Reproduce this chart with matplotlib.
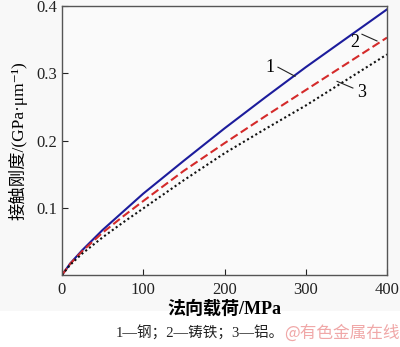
import matplotlib
matplotlib.use("Agg")
import matplotlib.pyplot as plt

# Data
load = [0, 10, 25, 50, 75, 100, 150, 200, 250, 300, 350, 400]
steel = [0, 0.017, 0.037, 0.067, 0.094, 0.121, 0.170, 0.218, 0.264, 0.309, 0.352, 0.395]
cast_iron = [0, 0.0165, 0.0355, 0.063, 0.087, 0.110, 0.155, 0.196, 0.236, 0.275, 0.314, 0.353]
aluminium = [0, 0.015, 0.032, 0.056, 0.078, 0.099, 0.141, 0.181, 0.217, 0.252, 0.290, 0.328]
x_ticks = [0, 100, 200, 300, 400]
y_ticks = [0.1, 0.2, 0.3, 0.4]

FAM = ['Liberation Serif', 'Noto Sans CJK SC', 'DejaVu Serif']
plt.rcParams['font.family'] = FAM

fig = plt.figure(figsize=(4.0, 3.47), dpi=100)
fig.patch.set_facecolor('#f8f8f8')
fig.patches.append(plt.Rectangle((0, 0), 1, 0.105, transform=fig.transFigure,
                                 facecolor='white', edgecolor='none', zorder=-10))
ax = fig.add_axes([0.155, 0.2075, 0.8125, 0.7752])
ax.set_facecolor('#fafafa')

ax.plot(load, steel, color='#1c1c9c', lw=1.5, ls='-')
ax.plot(load, cast_iron, color='#d42a2a', lw=1.5, ls=(0, (4, 1.8)))
ax.plot(load, aluminium, color='#111111', lw=1.5, ls=(0, (1, 1.3)))

ax.set_xlim(0, 400)
ax.set_ylim(0, 0.4)
ax.set_xticks(x_ticks)
ax.set_xticklabels([str(v) for v in x_ticks])
ax.set_yticks(y_ticks)
ax.set_yticklabels([f"{v:.1f}" for v in y_ticks])
ax.tick_params(direction='in', length=4, width=0.8, labelsize=12, colors='#222222',
               top=False, right=False)
ax.tick_params(axis='x', pad=5)
for s in ax.spines.values():
    s.set_color('#555555')
    s.set_linewidth(1.0)

ax.set_xlabel('法向载荷/MPa', fontsize=13, fontweight='bold', labelpad=2)
ax.set_ylabel('接触刚度/(GPa·μm⁻¹)', fontsize=12.5, labelpad=6)

# curve labels
ax.text(256, 0.309, '1', fontsize=13, ha='center', va='center')
ax.plot([265.8, 286.8], [0.309, 0.2955], color='#222222', lw=0.8)
ax.text(360.6, 0.346, '2', fontsize=13, ha='center', va='center')
ax.plot([369.2, 387.7], [0.358, 0.348], color='#222222', lw=0.8)
ax.text(369, 0.272, '3', fontsize=13, ha='center', va='center')
ax.plot([338.5, 358], [0.288, 0.278], color='#222222', lw=0.8)

fig.text(0.5, 0.04, '1—钢；2—铸铁；3—铝。', fontsize=10.5, ha='center', va='center',
         color='#222222')
fig.text(0.998, 0.04, '@有色金属在线', fontsize=12, ha='right', va='center',
         color='#f0a8a8', family=['Noto Sans CJK SC', 'DejaVu Sans'])

fig.savefig('out.png', dpi=100, facecolor=fig.get_facecolor())
